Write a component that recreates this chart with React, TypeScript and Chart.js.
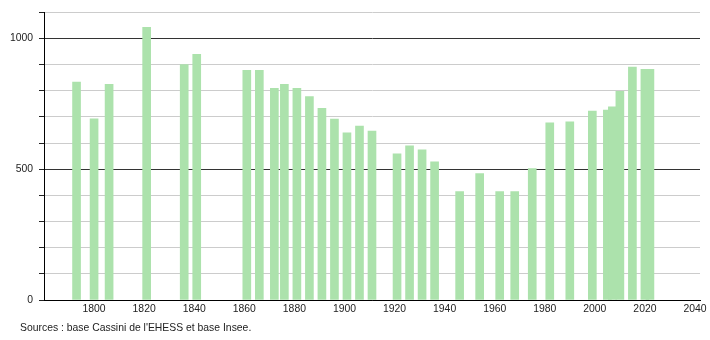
import React, { useEffect, useRef } from "react";
import { Chart, registerables } from "chart.js";

Chart.register(...registerables);

const years = [1793, 1800, 1806, 1821, 1836, 1841, 1861, 1866, 1872, 1876, 1881, 1886, 1891, 1896, 1901, 1906, 1911, 1921, 1926, 1931, 1936, 1946, 1954, 1962, 1968, 1975, 1982, 1990, 1999, 2005, 2007, 2010, 2015, 2020, 2022];
const population = [833, 693, 824, 1042, 900, 939, 878, 878, 809, 824, 809, 778, 733, 692, 639, 665, 646, 559, 589, 574, 528, 414, 483, 414, 414, 502, 677, 681, 722, 726, 738, 798, 890, 882, 882];
const xTickLabels = [1800, 1820, 1840, 1860, 1880, 1900, 1920, 1940, 1960, 1980, 2000, 2020, 2040];
const yGridValues = [0, 100, 200, 300, 400, 500, 600, 700, 800, 900, 1000, 1100];
const yTickLabels = [0, 500, 1000];
const sourceText = "Sources : base Cassini de l'EHESS et base Insee.";

const FONT = "'Liberation Sans', Arial, Helvetica, sans-serif";
const FONT_SIZE = 10.4;

export default function App() {
  const ref = useRef<HTMLCanvasElement | null>(null);

  useEffect(() => {
    if (!ref.current) return;
    const data = years.map((y, i) => ({ x: y, y: population[i] }));
    const chart = new Chart(ref.current, {
      type: "bar",
      data: {
        datasets: [
          {
            data: data as any,
            backgroundColor: "#ace2ac",
            borderWidth: 0,
            barThickness: 8,
          },
        ],
      },
      options: {
        animation: false,
        responsive: false,
        maintainAspectRatio: false,
        layout: { padding: { left: 0, right: 10, top: 10, bottom: 20 } },
        plugins: {
          legend: { display: false },
          tooltip: { enabled: false },
          title: { display: false },
        },
        scales: {
          x: {
            type: "linear",
            min: 1780,
            max: 2042,
            offset: false,
            grid: { display: false, drawTicks: false },
            border: { display: true, color: "#000", width: 1 },
            afterBuildTicks: (s: any) => {
              s.ticks = xTickLabels.map((v) => ({ value: v }));
            },
            ticks: {
              autoSkip: false,
              maxRotation: 0,
              padding: 3,
              color: "#222",
              font: { family: FONT, size: FONT_SIZE },
              callback: (v: any) => String(v),
            },
            afterFit: (s: any) => {
              s.height = 20;
            },
          },
          y: {
            type: "linear",
            min: 0,
            max: 1100,
            afterBuildTicks: (s: any) => {
              s.ticks = yGridValues.map((v) => ({ value: v }));
            },
            grid: {
              color: (ctx: any) => (ctx.tick && ctx.tick.value % 500 === 0 ? "#333" : "#cccccc"),
              tickColor: "#222",
              tickLength: 5,
              lineWidth: 1,
            },
            border: { display: true, color: "#000", width: 1 },
            ticks: {
              autoSkip: false,
              padding: 6,
              color: "#222",
              font: { family: FONT, size: FONT_SIZE },
              callback: (v: any) => (yTickLabels.includes(Number(v)) ? String(v) : ""),
            },
            afterFit: (s: any) => {
              s.width = 44;
            },
          },
        },
      },
    });
    return () => chart.destroy();
  }, []);

  return (
    <div style={{ position: "absolute", left: 0, top: 0, width: 710, height: 340, background: "#fff" }}>
      <canvas ref={ref} width={710} height={340} style={{ display: "block", width: 710, height: 340 }} />
      <div
        style={{
          position: "absolute",
          left: 20,
          top: 322,
          fontFamily: FONT,
          fontSize: FONT_SIZE,
          color: "#222",
          whiteSpace: "nowrap",
          lineHeight: "12px",
        }}
      >
        {sourceText}
      </div>
    </div>
  );
}
